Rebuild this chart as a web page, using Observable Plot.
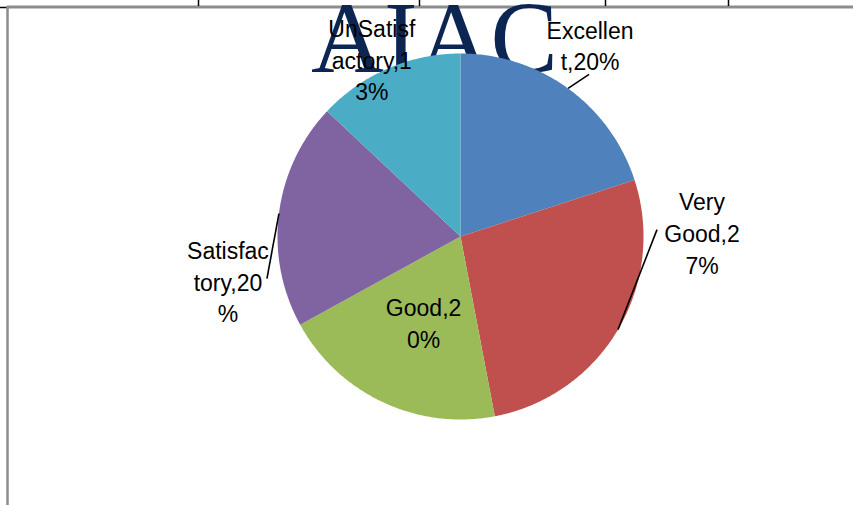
<!DOCTYPE html>
<html><head><meta charset="utf-8">
<script src="https://cdn.jsdelivr.net/npm/d3@7"></script>
<script src="https://cdn.jsdelivr.net/npm/@observablehq/plot@0.6"></script>
<style>body{margin:0;background:#fff} svg{display:block}</style>
</head><body><div id="chart"></div>
<script>
// ---- data ----
const categories = ["Excellent", "Very Good", "Good", "Satisfactory", "UnSatisfactory"];
const values = [20, 27, 20, 20, 13];
const labelTexts = ["Excellen\nt,20%", "Very\nGood,2\n7%", "Good,2\n0%", "Satisfac\ntory,20\n%", "UnSatisf\nactory,1\n3%"];
const colors = ["#4F81BD", "#C0504D", "#9BBB59", "#8064A2", "#4BACC6"];
const watermark = "AIAC";
const frameTicks = [198, 419, 605, 728];

// ---- layout ----
const W = 853, H = 506, cx = 460, cy = 236, R = 183;
// label offsets from the outer mid-point of each slice
const labelOffsets = [[22, -44], [84, -98], [41, -80], [-51, 67], [-16, -10]];
const leaderEnds = [[21, -14], [39, -100], null, [-12, 65], null];

const pie = d3.pie().sort(null).value(d => d)(values);
const slicePts = [];
const labels = [];
const leaders = [];
pie.forEach((p, i) => {
  const c = categories[i];
  slicePts.push({x: cx, y: cy, c});
  const n = Math.max(2, Math.ceil((p.endAngle - p.startAngle) / 0.01));
  for (let k = 0; k <= n; k++) {
    const a = p.startAngle + (p.endAngle - p.startAngle) * k / n;
    slicePts.push({x: cx + R * Math.sin(a), y: cy - R * Math.cos(a), c});
  }
  slicePts.push({x: cx, y: cy, c});
  const m = (p.startAngle + p.endAngle) / 2;
  const ox = cx + R * Math.sin(m), oy = cy - R * Math.cos(m);
  labels.push({x: ox + labelOffsets[i][0], y: oy + labelOffsets[i][1], t: labelTexts[i]});
  if (leaderEnds[i]) leaders.push({x1: ox, y1: oy, x2: ox + leaderEnds[i][0], y2: oy + leaderEnds[i][1]});
});

const chart = Plot.plot({
  width: W, height: H,
  margin: 0,
  x: {domain: [0, W], range: [0, W], axis: null},
  y: {domain: [0, H], range: [0, H], axis: null},
  color: {type: "ordinal", domain: categories, range: colors},
  marks: [
    Plot.ruleY([6.5], {x1: 7, x2: W, stroke: "#8c8c8c", strokeWidth: 3}),
    Plot.ruleY([7], {x1: 0, x2: 7, stroke: "#000", strokeWidth: 1.5}),
    Plot.ruleX([7], {y1: 6, y2: 505, stroke: "#8c8c8c", strokeWidth: 2.5}),
    Plot.ruleX(frameTicks, {y1: 0, y2: 6, stroke: "#000", strokeWidth: 1.5}),
    Plot.text([watermark], {x: 434, y: 71, text: d => d, fontFamily: "Liberation Serif, Times New Roman, serif",
      fontSize: 101, fill: "#0C2653", lineAnchor: "bottom"}),
    Plot.line(slicePts, {x: "x", y: "y", z: "c", fill: "c", stroke: "none"}),
    Plot.link(leaders, {x1: "x1", y1: "y1", x2: "x2", y2: "y2", stroke: "#000", strokeWidth: 1.6}),
    Plot.text(labels, {x: "x", y: "y", text: "t", fontFamily: "Liberation Sans, Arial, sans-serif",
      fontSize: 23, lineHeight: 1.38, fill: "#000", lineAnchor: "middle"})
  ]
});
document.getElementById("chart").appendChild(chart);
</script>
</body></html>
